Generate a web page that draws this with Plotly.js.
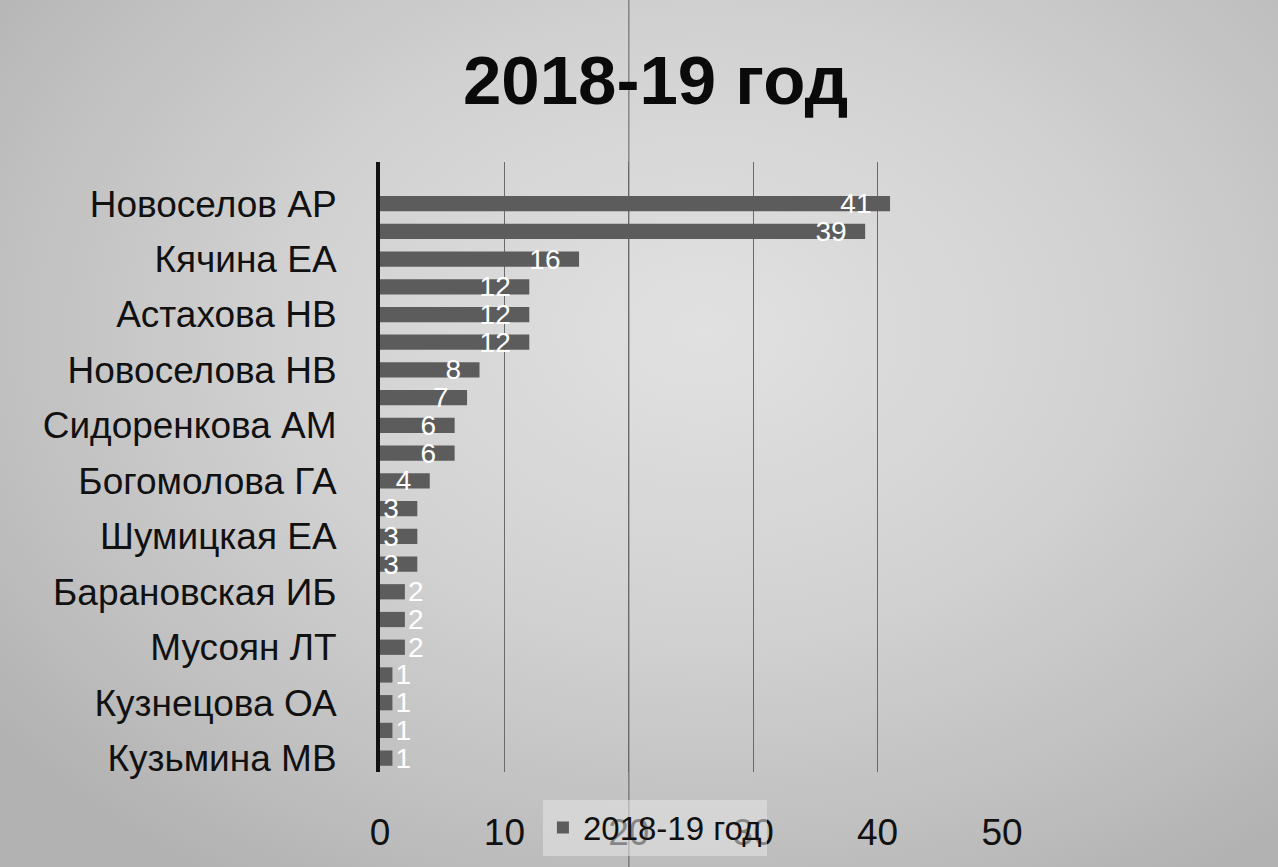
<!DOCTYPE html>
<html>
<head>
<meta charset="utf-8">
<script src="https://cdn.plot.ly/plotly-3.0.1.min.js"></script>
<style>
  html, body { margin: 0; padding: 0; }
  body {
    width: 1278px; height: 867px; overflow: hidden;
    background: radial-gradient(ellipse 70% 75% at 55% 38%, #e1e1e1 0%, #d2d2d2 45%, #bfbfbf 80%, #b2b2b2 100%);
  }
  #chart { width: 1278px; height: 867px; }
</style>
</head>
<body>
<div id="chart"></div>
<script>
// Series name
const seriesName = "2018-19 год";
// Values, listed from the top bar to the bottom bar (first row is empty)
const values = [null, 41, 39, 16, 12, 12, 12, 8, 7, 6, 6, 4, 3, 3, 3, 2, 2, 2, 1, 1, 1, 1];
// Category labels that are printed (every other row, starting from the second)
const shownNames = [
  "Новоселов АР", "Кячина ЕА", "Астахова НВ", "Новоселова НВ",
  "Сидоренкова АМ", "Богомолова ГА", "Шумицкая ЕА", "Барановская ИБ",
  "Мусоян ЛТ", "Кузнецова ОА", "Кузьмина МВ"
];
// X axis ticks
const xTicks = [0, 10, 20, 30, 40, 50];

const rows = values.map((v, i) => i);
const shownRows = shownNames.map((n, k) => 2 * k + 1);
// labels of very short bars do not fit inside them and sit just past the bar end
const labelPlacement = values.map(v => (v !== null && v < 3) ? "outside" : "inside");

const FONT = "Liberation Sans, Arial, sans-serif";

const trace = {
  type: "bar",
  orientation: "h",
  name: seriesName,
  x: values,
  y: rows,
  marker: { color: "#5c5c5c", line: { width: 0 } },
  texttemplate: "%{x}\u00a0\u00a0",
  textposition: labelPlacement,
  insidetextanchor: "end",
  constraintext: "none",
  textangle: 0,
  cliponaxis: false,
  textfont: { family: FONT, size: 28, color: "#ffffff" },
  insidetextfont: { family: FONT, size: 28, color: "#ffffff" },
  outsidetextfont: { family: FONT, size: 28, color: "#ffffff" },
  hoverinfo: "x+name"
};

const layout = {
  width: 1278,
  height: 867,
  paper_bgcolor: "rgba(0,0,0,0)",
  plot_bgcolor: "rgba(0,0,0,0)",
  margin: { l: 380, r: 276, t: 162, b: 92, pad: 0 },
  bargap: 0.45,
  showlegend: true,
  title: {
    text: "<b>2018-19 год</b>",
    font: { family: FONT, size: 69, color: "#0a0a0a" },
    xref: "container", yref: "container",
    x: 0.513, y: 0.908, xanchor: "center", yanchor: "middle"
  },
  xaxis: {
    range: [0, 50],
    tickvals: xTicks,
    ticktext: xTicks.map(String),
    showgrid: true,
    gridcolor: "#6a6a6a",
    gridwidth: 1,
    zeroline: false,
    showline: false,
    ticks: "",
    ticklabelstandoff: 35,
    tickfont: { family: FONT, size: 37, color: "#111111" },
    fixedrange: true
  },
  yaxis: {
    range: [values.length - 0.5, -0.5],
    tickvals: shownRows,
    ticktext: shownNames,
    showgrid: false,
    zeroline: false,
    showline: true,
    linecolor: "#111111",
    linewidth: 4,
    ticks: "",
    ticklabelstandoff: 32,
    tickfont: { family: FONT, size: 37, color: "#111111" },
    fixedrange: true
  },
  legend: {
    orientation: "h",
    x: 0.442, y: -0.091,
    xanchor: "center", yanchor: "middle",
    bgcolor: "rgba(230,230,230,0.55)",
    font: { family: FONT, size: 33, color: "#111111" },
    itemwidth: 30
  },
  shapes: [
    {
      type: "line", xref: "x", yref: "paper",
      x0: 20, x1: 20, y0: -0.16, y1: 1.27,
      line: { color: "rgba(70,70,70,0.55)", width: 1.5 },
      layer: "below"
    }
  ]
};

Plotly.newPlot("chart", [trace], layout, { displayModeBar: false, staticPlot: true });
</script>
</body>
</html>
